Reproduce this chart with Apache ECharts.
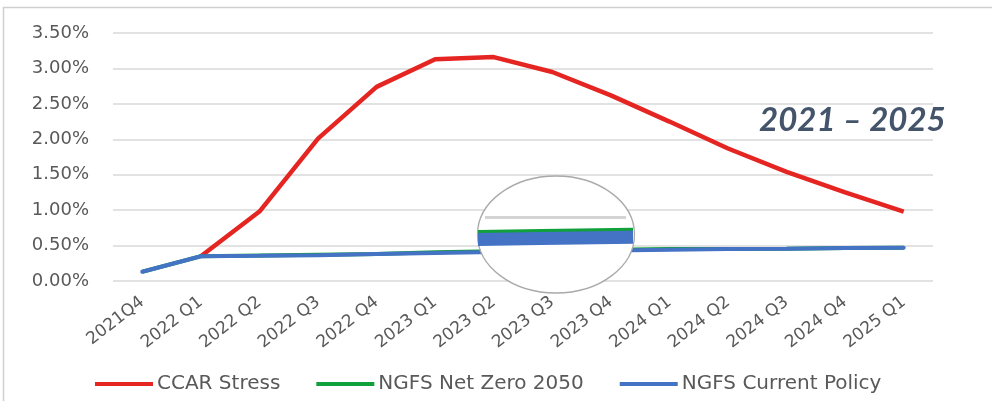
<!DOCTYPE html>
<html>
<head>
<meta charset="utf-8">
<script src="https://cdn.jsdelivr.net/npm/echarts@6/dist/echarts.min.js"></script>
<style>
  html, body { margin: 0; padding: 0; background: #fff; }
  #chart { width: 992px; height: 401px; }
</style>
</head>
<body>
<div id="chart"></div>
<script>
// Quarters on the x axis
const quarters = ['2021Q4', '2022 Q1', '2022 Q2', '2022 Q3', '2022 Q4', '2023 Q1', '2023 Q2',
  '2023 Q3', '2023 Q4', '2024 Q1', '2024 Q2', '2024 Q3', '2024 Q4', '2025 Q1'];

// Rates in percent
const ccarStress = [null, 0.35, 0.98, 2.01, 2.74, 3.13, 3.16, 2.95, 2.62, 2.25, 1.87, 1.54, 1.25, 0.98];
const ngfsNetZero = [0.13, 0.35, 0.36, 0.37, 0.38, 0.405, 0.42, 0.432, 0.442, 0.452, 0.45, 0.455, 0.465, 0.47];
const ngfsCurrentPolicy = [0.13, 0.35, 0.355, 0.365, 0.38, 0.395, 0.41, 0.42, 0.43, 0.44, 0.45, 0.455, 0.465, 0.47];

// Y axis ticks (percent)
const yMin = 0, yMax = 3.5, yStep = 0.5;

const seriesNames = ['CCAR Stress', 'NGFS Net Zero 2050', 'NGFS Current Policy'];
const colors = { red: '#e52521', green: '#12a03c', blue: '#4472c4' };

const FONT = 'DejaVu Sans';

const chart = echarts.init(document.getElementById('chart'), null, { renderer: 'canvas' });

const toXY = arr => arr.map((v, i) => [i, v]);

chart.setOption({
  animation: false,
  backgroundColor: '#fff',
  title: {
    text: '2021 \u2013 2025',
    left: 754, top: 99,
    textStyle: { fontFamily: 'Lato', fontWeight: 'bold', fontStyle: 'italic', fontSize: 33, color: '#44546a' }
  },
  legend: {
    data: seriesNames,
    left: 90, top: 369,
    icon: 'rect', itemWidth: 58, itemHeight: 4, itemGap: 36,
    textStyle: { fontFamily: FONT, fontSize: 20, color: '#595959', padding: [0, 0, 0, -1] }
  },
  grid: [
    { left: 113, right: 59, top: 33, bottom: 120 },
    // magnified inset (line caps extend past the clip rect by half the stroke width)
    { left: 485, width: 141, top: 183, height: 103 }
  ],
  xAxis: [
    {
      type: 'category', gridIndex: 0, data: quarters, boundaryGap: true,
      axisLine: { show: false }, axisTick: { show: false },
      axisLabel: { interval: 0, rotate: 38, margin: 19, fontFamily: FONT, fontSize: 17, color: '#595959' }
    },
    { type: 'value', gridIndex: 1, min: 6.72, max: 7.42, show: false }
  ],
  yAxis: [
    {
      type: 'value', gridIndex: 0, min: yMin, max: yMax, interval: yStep,
      axisLine: { show: false }, axisTick: { show: false },
      axisLabel: { margin: 24, fontFamily: FONT, fontSize: 18, color: '#595959', formatter: v => v.toFixed(2) + '%' },
      splitLine: { lineStyle: { color: '#d9d9d9', width: 1.5 } }
    },
    { type: 'value', gridIndex: 1, min: 0.239, max: 0.632, show: false, splitLine: { show: false } }
  ],
  graphic: [
    // outer frame
    { type: 'rect', z: 0, shape: { x: 3.5, y: 7.5, width: 1000, height: 1000 }, style: { fill: null, stroke: '#d0d0d0', lineWidth: 1.5 } },
    // magnifier lens
    { type: 'ellipse', z: 10, shape: { cx: 556, cy: 234.5, rx: 78.5, ry: 58.5 }, style: { fill: '#fff', stroke: '#a9a9a9', lineWidth: 1.3 } }
  ],
  series: [
    {
      name: seriesNames[0], type: 'line', data: ccarStress, z: 3,
      showSymbol: false, lineStyle: { color: colors.red, width: 4.5 }, itemStyle: { color: colors.red }
    },
    {
      name: seriesNames[1], type: 'line', data: ngfsNetZero, z: 4,
      showSymbol: false, lineStyle: { color: colors.green, width: 4 }, itemStyle: { color: colors.green }
    },
    {
      name: seriesNames[2], type: 'line', data: ngfsCurrentPolicy, z: 5,
      showSymbol: false, lineStyle: { color: colors.blue, width: 4, cap: 'round' }, itemStyle: { color: colors.blue }
    },
    // magnified view of the two NGFS scenarios
    {
      name: seriesNames[1], type: 'line', xAxisIndex: 1, yAxisIndex: 1, data: toXY(ngfsNetZero), z: 20,
      showSymbol: false, lineStyle: { color: colors.green, width: 13, cap: 'butt' }, itemStyle: { color: colors.green }
    },
    {
      name: seriesNames[2], type: 'line', xAxisIndex: 1, yAxisIndex: 1, data: toXY(ngfsCurrentPolicy), z: 21,
      showSymbol: false, lineStyle: { color: colors.blue, width: 13, cap: 'butt' }, itemStyle: { color: colors.blue },
      markLine: {
        z: 19, silent: true, symbol: 'none', label: { show: false },
        lineStyle: { color: '#d4d4d4', width: 3, type: 'solid' },
        data: [{ yAxis: 0.5 }]
      }
    }
  ]
});
</script>
</body>
</html>
